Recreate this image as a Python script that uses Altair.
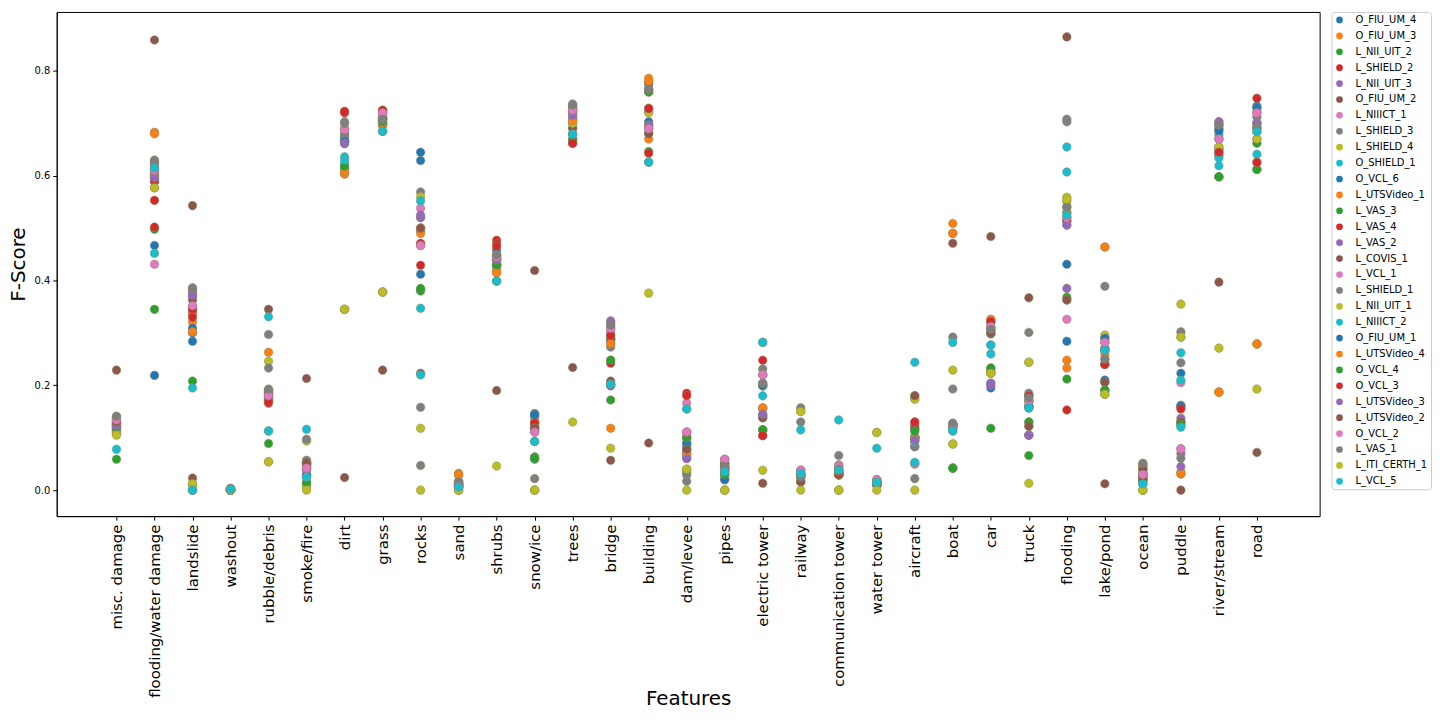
import json
import altair as alt
import pandas as pd

features = ["misc. damage", "flooding/water damage", "landslide", "washout", "rubble/debris",
            "smoke/fire", "dirt", "grass", "rocks", "sand", "shrubs", "snow/ice", "trees",
            "bridge", "building", "dam/levee", "pipes", "electric tower", "railway",
            "communication tower", "water tower", "aircraft", "boat", "car", "truck",
            "flooding", "lake/pond", "ocean", "puddle", "river/stream", "road"]

series = ["O_FIU_UM_4", "O_FIU_UM_3", "L_NII_UIT_2", "L_SHIELD_2", "L_NII_UIT_3", "O_FIU_UM_2",
          "L_NIIICT_1", "L_SHIELD_3", "L_SHIELD_4", "O_SHIELD_1", "O_VCL_6", "L_UTSVideo_1",
          "L_VAS_3", "L_VAS_4", "L_VAS_2", "L_COVIS_1", "L_VCL_1", "L_SHIELD_1", "L_NII_UIT_1",
          "L_NIIICT_2", "O_FIU_UM_1", "L_UTSVideo_4", "O_VCL_4", "O_VCL_3", "L_UTSVideo_3",
          "L_UTSVideo_2", "O_VCL_2", "L_VAS_1", "L_ITI_CERTH_1", "L_VCL_5"]

tab10 = ["#1f77b4", "#ff7f0e", "#2ca02c", "#d62728", "#9467bd",
         "#8c564b", "#e377c2", "#7f7f7f", "#bcbd22", "#17becf"]

y_ticks = [0.0, 0.2, 0.4, 0.6, 0.8]

# one list per feature, values in the order of `series`
misc_damage = [0.120, 0.115, 0.125, 0.130, 0.128, 0.229, 0.135, 0.138, 0.110, 0.120,
               0.118, 0.112, 0.059, 0.128, 0.125, 0.122, 0.132, 0.140, 0.108, 0.122,
               0.116, 0.110, 0.120, 0.127, 0.124, 0.130, 0.134, 0.141, 0.105, 0.078]
flooding_water_damage = [0.605, 0.683, 0.498, 0.553, 0.596, 0.859, 0.612, 0.625, 0.577, 0.615,
                         0.467, 0.680, 0.345, 0.502, 0.600, 0.589, 0.431, 0.630, 0.590, 0.452,
                         0.219, 0.600, 0.608, 0.590, 0.596, 0.620, 0.610, 0.628, 0.577, 0.615]
landslide = [0.284, 0.321, 0.208, 0.340, 0.376, 0.543, 0.350, 0.380, 0.012, 0.195,
             0.309, 0.336, 0.000, 0.330, 0.370, 0.363, 0.345, 0.386, 0.008, 0.000,
             0.300, 0.302, 0.350, 0.345, 0.372, 0.023, 0.352, 0.385, 0.012, 0.000]
washout = [0.000, 0.000, 0.000, 0.002, 0.000, 0.003, 0.000, 0.001, 0.000, 0.002,
           0.000, 0.001, 0.000, 0.002, 0.000, 0.003, 0.000, 0.001, 0.000, 0.002,
           0.000, 0.001, 0.000, 0.002, 0.000, 0.003, 0.000, 0.001, 0.000, 0.002]
rubble_debris = [0.190, 0.263, 0.089, 0.166, 0.185, 0.345, 0.181, 0.297, 0.246, 0.331,
                 0.180, 0.175, 0.170, 0.174, 0.188, 0.190, 0.183, 0.233, 0.054, 0.113,
                 0.178, 0.170, 0.172, 0.168, 0.185, 0.190, 0.180, 0.193, 0.054, 0.113]
smoke_fire = [0.030, 0.052, 0.010, 0.050, 0.045, 0.213, 0.042, 0.050, 0.094, 0.116,
              0.028, 0.050, 0.012, 0.048, 0.040, 0.055, 0.042, 0.057, 0.005, 0.025,
              0.030, 0.045, 0.015, 0.050, 0.038, 0.052, 0.042, 0.097, 0.000, 0.025]
dirt = [0.665, 0.603, 0.612, 0.723, 0.661, 0.680, 0.689, 0.703, 0.345, 0.636,
        0.668, 0.605, 0.615, 0.720, 0.665, 0.675, 0.690, 0.674, 0.345, 0.622,
        0.666, 0.610, 0.618, 0.722, 0.662, 0.024, 0.688, 0.700, 0.345, 0.630]
grass = [0.710, 0.700, 0.705, 0.725, 0.710, 0.697, 0.720, 0.708, 0.378, 0.685,
         0.710, 0.700, 0.705, 0.724, 0.712, 0.697, 0.720, 0.708, 0.378, 0.685,
         0.710, 0.700, 0.703, 0.725, 0.710, 0.229, 0.720, 0.708, 0.378, 0.685]
rocks = [0.645, 0.495, 0.383, 0.471, 0.521, 0.500, 0.538, 0.569, 0.560, 0.552,
         0.629, 0.490, 0.380, 0.429, 0.520, 0.223, 0.467, 0.158, 0.118, 0.347,
         0.412, 0.500, 0.385, 0.470, 0.525, 0.500, 0.467, 0.047, 0.000, 0.220]
sand = [0.010, 0.032, 0.005, 0.010, 0.008, 0.015, 0.010, 0.016, 0.000, 0.006,
        0.010, 0.030, 0.005, 0.010, 0.008, 0.012, 0.010, 0.016, 0.000, 0.006,
        0.010, 0.028, 0.005, 0.010, 0.008, 0.012, 0.010, 0.016, 0.000, 0.006]
shrubs = [0.440, 0.415, 0.430, 0.477, 0.440, 0.428, 0.445, 0.449, 0.430, 0.399,
          0.458, 0.420, 0.430, 0.470, 0.440, 0.428, 0.445, 0.449, 0.430, 0.399,
          0.440, 0.415, 0.430, 0.465, 0.440, 0.190, 0.445, 0.449, 0.046, 0.399]
snow_ice = [0.146, 0.130, 0.063, 0.128, 0.120, 0.419, 0.111, 0.140, 0.000, 0.093,
            0.145, 0.130, 0.063, 0.128, 0.120, 0.118, 0.111, 0.140, 0.000, 0.059,
            0.144, 0.125, 0.060, 0.128, 0.118, 0.118, 0.111, 0.022, 0.000, 0.093]
trees = [0.731, 0.710, 0.668, 0.662, 0.720, 0.691, 0.725, 0.712, 0.700, 0.679,
         0.730, 0.705, 0.670, 0.662, 0.720, 0.690, 0.725, 0.737, 0.700, 0.680,
         0.730, 0.705, 0.668, 0.662, 0.715, 0.234, 0.725, 0.735, 0.130, 0.679]
bridge = [0.290, 0.280, 0.248, 0.298, 0.323, 0.208, 0.309, 0.315, 0.290, 0.202,
          0.285, 0.118, 0.172, 0.242, 0.320, 0.200, 0.305, 0.273, 0.290, 0.202,
          0.288, 0.280, 0.248, 0.295, 0.199, 0.057, 0.309, 0.315, 0.080, 0.202]
building = [0.779, 0.786, 0.760, 0.729, 0.697, 0.682, 0.691, 0.765, 0.760, 0.722,
            0.703, 0.670, 0.646, 0.643, 0.697, 0.680, 0.690, 0.765, 0.720, 0.626,
            0.775, 0.780, 0.760, 0.728, 0.695, 0.090, 0.690, 0.765, 0.376, 0.626]
dam_levee = [0.090, 0.080, 0.101, 0.185, 0.070, 0.078, 0.166, 0.061, 0.040, 0.155,
             0.085, 0.075, 0.100, 0.180, 0.065, 0.035, 0.111, 0.029, 0.040, 0.086,
             0.090, 0.070, 0.100, 0.110, 0.060, 0.078, 0.111, 0.017, 0.000, 0.155]
pipes = [0.020, 0.040, 0.030, 0.045, 0.040, 0.051, 0.059, 0.045, 0.000, 0.035,
         0.022, 0.040, 0.030, 0.045, 0.040, 0.050, 0.058, 0.045, 0.000, 0.035,
         0.020, 0.038, 0.030, 0.045, 0.040, 0.051, 0.059, 0.045, 0.000, 0.035]
electric_tower = [0.199, 0.157, 0.115, 0.248, 0.143, 0.138, 0.220, 0.231, 0.200, 0.282,
                  0.199, 0.155, 0.115, 0.104, 0.143, 0.138, 0.220, 0.204, 0.200, 0.180,
                  0.200, 0.157, 0.115, 0.104, 0.145, 0.013, 0.220, 0.204, 0.038, 0.282]
railway = [0.030, 0.030, 0.025, 0.030, 0.030, 0.016, 0.038, 0.130, 0.150, 0.115,
           0.030, 0.028, 0.025, 0.030, 0.030, 0.016, 0.038, 0.157, 0.150, 0.032,
           0.030, 0.028, 0.025, 0.030, 0.030, 0.016, 0.038, 0.025, 0.000, 0.032]
communication_tower = [0.030, 0.030, 0.029, 0.030, 0.035, 0.035, 0.048, 0.066, 0.000, 0.134,
                       0.030, 0.030, 0.029, 0.030, 0.035, 0.035, 0.048, 0.040, 0.000, 0.038,
                       0.030, 0.030, 0.029, 0.030, 0.035, 0.035, 0.045, 0.040, 0.000, 0.038]
water_tower = [0.010, 0.010, 0.010, 0.015, 0.012, 0.015, 0.020, 0.015, 0.110, 0.080,
               0.010, 0.010, 0.010, 0.015, 0.012, 0.015, 0.020, 0.015, 0.110, 0.015,
               0.010, 0.010, 0.010, 0.015, 0.012, 0.015, 0.020, 0.015, 0.000, 0.015]
aircraft = [0.100, 0.100, 0.116, 0.130, 0.100, 0.180, 0.102, 0.083, 0.174, 0.244,
            0.100, 0.100, 0.116, 0.125, 0.095, 0.120, 0.050, 0.083, 0.174, 0.092,
            0.100, 0.100, 0.112, 0.130, 0.095, 0.180, 0.050, 0.022, 0.000, 0.053]
boat = [0.120, 0.509, 0.042, 0.125, 0.125, 0.471, 0.125, 0.292, 0.229, 0.282,
        0.120, 0.490, 0.042, 0.125, 0.125, 0.125, 0.125, 0.193, 0.088, 0.113,
        0.120, 0.490, 0.042, 0.125, 0.125, 0.125, 0.125, 0.128, 0.088, 0.113]
car = [0.300, 0.326, 0.233, 0.322, 0.204, 0.484, 0.312, 0.307, 0.223, 0.277,
       0.195, 0.325, 0.118, 0.227, 0.204, 0.300, 0.310, 0.305, 0.223, 0.260,
       0.298, 0.320, 0.233, 0.322, 0.200, 0.300, 0.312, 0.307, 0.223, 0.277]
truck = [0.160, 0.170, 0.130, 0.180, 0.105, 0.367, 0.170, 0.301, 0.244, 0.157,
         0.160, 0.170, 0.066, 0.180, 0.105, 0.122, 0.170, 0.185, 0.244, 0.157,
         0.160, 0.170, 0.130, 0.180, 0.105, 0.122, 0.170, 0.176, 0.013, 0.157]
flooding = [0.284, 0.248, 0.368, 0.153, 0.385, 0.865, 0.326, 0.708, 0.559, 0.655,
            0.431, 0.233, 0.212, 0.513, 0.506, 0.363, 0.520, 0.703, 0.550, 0.607,
            0.530, 0.530, 0.540, 0.515, 0.506, 0.363, 0.520, 0.541, 0.555, 0.525]
lake_pond = [0.290, 0.464, 0.191, 0.240, 0.270, 0.206, 0.282, 0.389, 0.296, 0.267,
             0.210, 0.260, 0.191, 0.240, 0.270, 0.206, 0.282, 0.250, 0.183, 0.267,
             0.290, 0.464, 0.190, 0.240, 0.270, 0.012, 0.282, 0.250, 0.183, 0.267]
ocean = [0.020, 0.048, 0.020, 0.025, 0.030, 0.040, 0.030, 0.051, 0.000, 0.012,
         0.020, 0.045, 0.020, 0.025, 0.030, 0.040, 0.030, 0.033, 0.000, 0.012,
         0.020, 0.048, 0.020, 0.025, 0.030, 0.040, 0.030, 0.051, 0.000, 0.012]
puddle = [0.223, 0.031, 0.130, 0.159, 0.137, 0.130, 0.205, 0.302, 0.355, 0.262,
          0.162, 0.031, 0.125, 0.159, 0.070, 0.130, 0.079, 0.243, 0.292, 0.210,
          0.160, 0.035, 0.125, 0.155, 0.045, 0.000, 0.079, 0.061, 0.292, 0.120]
river_stream = [0.689, 0.187, 0.598, 0.650, 0.703, 0.640, 0.670, 0.697, 0.655, 0.678,
                0.689, 0.187, 0.598, 0.645, 0.649, 0.640, 0.670, 0.697, 0.655, 0.634,
                0.685, 0.187, 0.598, 0.645, 0.703, 0.397, 0.670, 0.697, 0.271, 0.619]
road = [0.733, 0.279, 0.612, 0.748, 0.700, 0.690, 0.722, 0.712, 0.670, 0.684,
        0.730, 0.279, 0.662, 0.626, 0.700, 0.690, 0.720, 0.693, 0.670, 0.641,
        0.730, 0.279, 0.612, 0.625, 0.700, 0.072, 0.720, 0.693, 0.193, 0.684]

columns = [misc_damage, flooding_water_damage, landslide, washout, rubble_debris, smoke_fire,
           dirt, grass, rocks, sand, shrubs, snow_ice, trees, bridge, building, dam_levee,
           pipes, electric_tower, railway, communication_tower, water_tower, aircraft, boat,
           car, truck, flooding, lake_pond, ocean, puddle, river_stream, road]

rows = []
for si, team in enumerate(series):
    for fi, feat in enumerate(features):
        rows.append({"team": team, "feature": feat, "fi": fi,
                     "fscore": columns[fi][si], "order": si})
df = pd.DataFrame(rows)

FONT = "DejaVu Sans"
label_expr = json.dumps(features) + "[round(datum.value)]"

chart = alt.Chart(df).mark_circle(
    size=74, opacity=1, stroke="#8a8a6a", strokeWidth=0.5
).encode(
    x=alt.X("fi:Q",
            scale=alt.Scale(domain=[-1.572, 31.65], nice=False, zero=False),
            axis=alt.Axis(title="Features", values=list(range(len(features))),
                          labelExpr=label_expr, labelAngle=270, labelFontSize=15,
                          labelAlign="right", labelBaseline="middle",
                          titleFontSize=20, titleFontWeight="normal", labelPadding=4,
                          titlePadding=-9, tickSize=4, labelOverlap=False, labelFlush=False)),
    y=alt.Y("fscore:Q",
            scale=alt.Scale(domain=[-0.0496, 0.9126], nice=False, zero=False),
            axis=alt.Axis(title="F-Score", values=y_ticks, format=".1f",
                          labelFontSize=10, titleFontSize=20, titleFontWeight="normal",
                          tickSize=4, labelPadding=3, titlePadding=6)),
    color=alt.Color("team:N",
                    scale=alt.Scale(domain=series, range=tab10 * 3),
                    legend=alt.Legend(title=None, symbolLimit=40, orient="right", offset=12,
                                      padding=3, strokeColor="#cccccc", cornerRadius=3,
                                      fillColor="white", labelFontSize=10, symbolSize=45,
                                      symbolType="circle", rowPadding=6, labelOffset=11,
                                      symbolStrokeWidth=0)),
    order=alt.Order("order:Q"),
    tooltip=["team:N", "feature:N", "fscore:Q"],
).properties(
    width=1432, height=703,
    autosize=alt.AutoSizeParams(type="fit", contains="padding"),
    padding={"left": 0, "top": 2, "right": 0, "bottom": 0},
).configure_view(
    stroke="black", strokeWidth=1
).configure_axis(
    grid=False, domainColor="black", tickColor="black", labelColor="black",
    titleColor="black", labelFont=FONT, titleFont=FONT
).configure_legend(
    labelFont=FONT, labelColor="black"
)

chart.save("out.html", embed_options={"renderer": "svg", "actions": False})
